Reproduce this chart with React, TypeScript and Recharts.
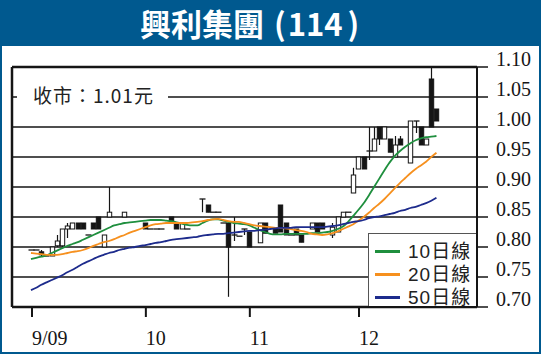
import { ComposedChart, Bar, Line, XAxis, YAxis, CartesianGrid, ReferenceLine } from 'recharts';

// 興利集團 (114) daily candles, Sep - Dec 2009; null = no trade that day
const opens = [
  0.795, 0.795, 0.792, 0.785, 0.785, 0.802, 0.802, 0.83, 0.83, 0.84,
  0.84, 0.82, 0.84, 0.85, 0.80, 0.85, null, null, 0.85, null,
  null, null, 0.84, 0.83, 0.83, 0.83, null, 0.85, 0.84, 0.83,
  0.83, null, null, 0.88, 0.87, 0.858, 0.858, 0.84, 0.84, 0.82,
  0.818, 0.83, 0.825, null, 0.807, 0.84, null, 0.83, 0.87, 0.84,
  0.82, 0.83, 0.82, null, 0.83, 0.84, 0.84, null, 0.82, 0.825,
  0.85, 0.858, 0.89, 0.93, 0.95, 0.96, 0.96, 1.00, 0.98, 0.98,
  0.95, 0.98, null, 0.94, 1.01, 1.00, 0.97, 1.08, 1.03,
];
const highs = [
  0.795, 0.795, 0.795, 0.785, 0.80, 0.82, 0.83, 0.84, 0.84, 0.84,
  0.84, 0.82, 0.84, 0.85, 0.82, 0.90, null, null, 0.858, null,
  null, null, 0.84, 0.83, 0.83, 0.83, null, 0.85, 0.84, 0.84,
  0.83, null, null, 0.88, 0.87, 0.858, 0.858, 0.84, 0.84, 0.85,
  0.818, 0.83, 0.825, null, 0.84, 0.84, null, 0.83, 0.87, 0.84,
  0.82, 0.83, 0.82, null, 0.84, 0.84, 0.84, null, 0.84, 0.85,
  0.858, 0.858, 0.932, 0.95, 0.95, 1.00, 1.00, 1.00, 1.00, 0.98,
  0.985, 0.985, null, 1.01, 1.01, 1.00, 0.98, 1.10, 1.03,
];
const lows = [
  0.795, 0.795, 0.785, 0.785, 0.785, 0.80, 0.80, 0.815, 0.83, 0.83,
  0.83, 0.82, 0.83, 0.83, 0.80, 0.85, null, null, 0.85, null,
  null, null, 0.83, 0.83, 0.83, 0.83, null, 0.84, 0.83, 0.83,
  0.83, null, null, 0.858, 0.858, 0.858, 0.858, 0.84, 0.717, 0.81,
  0.818, 0.82, 0.80, null, 0.807, 0.823, null, 0.823, 0.825, 0.82,
  0.82, 0.82, 0.808, null, 0.83, 0.825, 0.83, null, 0.815, 0.825,
  0.85, 0.858, 0.89, 0.93, 0.93, 0.945, 0.96, 0.97, 0.98, 0.958,
  0.95, 0.97, null, 0.94, 0.99, 0.97, 0.97, 1.00, 1.01,
];
const closes = [
  0.795, 0.795, 0.787, 0.785, 0.80, 0.81, 0.83, 0.835, 0.84, 0.83,
  0.83, 0.82, 0.83, 0.83, 0.82, 0.858, null, null, 0.858, null,
  null, null, 0.83, 0.83, 0.83, 0.83, null, 0.84, 0.83, 0.84,
  0.83, null, null, 0.88, 0.858, 0.858, 0.858, 0.84, 0.80, 0.82,
  0.818, 0.83, 0.80, null, 0.84, 0.823, null, 0.823, 0.825, 0.82,
  0.82, 0.82, 0.808, null, 0.84, 0.825, 0.83, null, 0.833, 0.85,
  0.858, 0.858, 0.92, 0.95, 0.93, 0.96, 0.98, 0.98, 1.00, 0.958,
  0.97, 0.97, null, 1.01, 1.01, 0.97, 0.98, 1.00, 1.01,
];

const ma10 = [
  0.780, 0.782, 0.784, 0.786, 0.790, 0.794, 0.798, 0.802, 0.805, 0.808,
  0.812, 0.816, 0.820, 0.824, 0.828, 0.832, 0.836, 0.838, 0.840, 0.841,
  0.842, 0.843, 0.844, 0.845, 0.845, 0.845, 0.844, 0.843, 0.841, 0.839,
  0.837, 0.836, 0.836, 0.840, 0.844, 0.846, 0.846, 0.844, 0.842, 0.840,
  0.839, 0.838, 0.836, 0.832, 0.828, 0.825, 0.822, 0.821, 0.821, 0.822,
  0.822, 0.822, 0.822, 0.822, 0.823, 0.823, 0.824, 0.825, 0.827, 0.830,
  0.834, 0.842, 0.852, 0.862, 0.873, 0.886, 0.900, 0.914, 0.928, 0.941,
  0.952, 0.960, 0.967, 0.973, 0.978, 0.981, 0.983, 0.984, 0.985,
];
const ma20 = [
  0.790, 0.789, 0.788, 0.787, 0.787, 0.787, 0.788, 0.790, 0.792, 0.793,
  0.795, 0.798, 0.802, 0.805, 0.808, 0.810, 0.813, 0.817, 0.820, 0.824,
  0.827, 0.830, 0.833, 0.836, 0.838, 0.839, 0.840, 0.840, 0.840, 0.840,
  0.840, 0.841, 0.842, 0.843, 0.845, 0.846, 0.847, 0.845, 0.843, 0.842,
  0.842, 0.840, 0.838, 0.836, 0.835, 0.834, 0.833, 0.832, 0.832, 0.831,
  0.830, 0.828, 0.827, 0.825, 0.822, 0.821, 0.820, 0.821, 0.823, 0.826,
  0.830, 0.834, 0.838, 0.844, 0.850, 0.857, 0.865, 0.872, 0.880, 0.889,
  0.898, 0.907, 0.915, 0.923, 0.930, 0.936, 0.942, 0.950, 0.957,
];
const ma50 = [
  0.728, 0.732, 0.737, 0.741, 0.745, 0.749, 0.753, 0.758, 0.762, 0.767,
  0.772, 0.776, 0.780, 0.784, 0.787, 0.790, 0.792, 0.795, 0.797, 0.799,
  0.800, 0.802, 0.803, 0.805, 0.807, 0.808, 0.810, 0.812, 0.813, 0.814,
  0.815, 0.816, 0.817, 0.819, 0.820, 0.821, 0.822, 0.822, 0.823, 0.824,
  0.825, 0.826, 0.827, 0.827, 0.828, 0.829, 0.830, 0.831, 0.832, 0.832,
  0.832, 0.833, 0.833, 0.833, 0.833, 0.833, 0.833, 0.834, 0.835, 0.836,
  0.838, 0.840, 0.842, 0.843, 0.845, 0.848, 0.850, 0.851, 0.853, 0.855,
  0.857, 0.860, 0.862, 0.865, 0.867, 0.870, 0.873, 0.877, 0.882,
];

const priceTicks = [0.70, 0.75, 0.80, 0.85, 0.90, 0.95, 1.00, 1.05, 1.10];
const monthTicks = [0.2, 22.1, 42.1, 63.1];
const monthLabels = ['9/09', '10', '11', '12'];

const Y_MIN = 0.7;
const Y_MAX = 1.1;
const X_DOMAIN: [number, number] = [-3.65, 85.8];
const INK = '#151515';

const data = opens.map((o, i) => ({
  i, o, h: highs[i], l: lows[i], c: closes[i],
  ma10: ma10[i], ma20: ma20[i], ma50: ma50[i],
}));

const series = [
  { key: 'ma10', name: '10日線', color: '#1f8f3e' },
  { key: 'ma20', name: '20日線', color: '#f6901e' },
  { key: 'ma50', name: '50日線', color: '#1d2b8c' },
];

// bar spans [Y_MIN, high] so the pixel/price ratio is always known
const Candle = (props: any) => {
  const { x, width, y, height, payload } = props;
  if (payload.h == null) return null;
  const cx = Math.round(x + width / 2) + 0.5;
  const k = height / (payload.h - Y_MIN);
  const py = (v: number) => y + (payload.h - v) * k;
  const top = py(Math.max(payload.o, payload.c));
  const bot = py(Math.min(payload.o, payload.c));
  const up = payload.c > payload.o;
  return (
    <g>
      {payload.h !== payload.l && (
        <line x1={cx} x2={cx} y1={py(payload.h)} y2={py(payload.l)} stroke={INK} strokeWidth={1.2} />
      )}
      {bot - top < 1.5 ? (
        <line x1={cx - 3} x2={cx + 3} y1={top} y2={top} stroke={INK} strokeWidth={1.3} />
      ) : (
        <rect x={cx - 2.2} y={top} width={4.4} height={bot - top}
          fill={up ? '#fff' : INK} stroke={INK} strokeWidth={1} />
      )}
    </g>
  );
};

const PriceTick = ({ x, y, payload }: any) => (
  <text x={x + 8} y={y - 1} fontFamily="'Liberation Serif', serif" fontSize={20} fill={INK}>
    {payload.value.toFixed(2)}
  </text>
);

const MonthTick = ({ x, y, index }: any) => (
  <text x={x} y={y + 28} fontFamily="'Liberation Serif', serif" fontSize={20} fill={INK}>
    {monthLabels[index] ?? ''}
  </text>
);

export default function App() {
  return (
    <div style={frame}>
      <div style={inner} />
      <div style={banner}>
        興利集團<span style={{ marginLeft: 10, marginRight: 2 }}>(</span>114<span style={{ marginLeft: 5 }}>)</span>
      </div>
      <div style={{ position: 'absolute', left: 0, top: 0 }}>
        <ComposedChart width={541} height={354} data={data}
          margin={{ top: 67, left: 12, right: 8, bottom: 7 }}>
          <CartesianGrid vertical={false} stroke={INK} strokeWidth={1.5} />
          <XAxis dataKey="i" type="number" domain={X_DOMAIN} ticks={monthTicks} allowDataOverflow
            interval={0} height={40} tickSize={10} tickMargin={0}
            axisLine={{ stroke: INK, strokeWidth: 2.5 }} tickLine={{ stroke: INK, strokeWidth: 2 }}
            tick={<MonthTick />} />
          <YAxis orientation="right" domain={[Y_MIN, Y_MAX]} ticks={priceTicks} width={56}
            tickSize={11} tickMargin={0} interval={0}
            axisLine={{ stroke: INK, strokeWidth: 2 }} tickLine={{ stroke: INK, strokeWidth: 1.5 }}
            tick={<PriceTick />} />
          <ReferenceLine y={Y_MAX} stroke={INK} strokeWidth={2.5} />
          <ReferenceLine x={X_DOMAIN[0]} stroke={INK} strokeWidth={2.5} />
          <Bar dataKey={(d: any) => (d.h == null ? null : [Y_MIN, d.h])} barSize={5}
            shape={<Candle />} isAnimationActive={false} />
          {series.map((s) => (
            <Line key={s.key} dataKey={s.key} type="monotone" stroke={s.color} strokeWidth={1.8}
              dot={false} activeDot={false} isAnimationActive={false} />
          ))}
        </ComposedChart>
      </div>
      <div style={closeLabel}>收市：1.01元</div>
      <div style={legendBox}>
        {series.map((s, n) => (
          <div key={s.key} style={{ position: 'absolute', left: 6, top: 6 + n * 23, height: 22, display: 'flex', alignItems: 'center' }}>
            <span style={{ width: 25, height: 3, background: s.color, display: 'inline-block', marginRight: 8 }} />
            <span style={legendText}>{s.name}</span>
          </div>
        ))}
      </div>
    </div>
  );
}

const frame: React.CSSProperties = {
  position: 'absolute',
  left: 0,
  top: 0,
  width: 541,
  height: 354,
  background: '#00598f',
  overflow: 'hidden',
};
const inner: React.CSSProperties = {
  position: 'absolute',
  left: 2,
  top: 46,
  width: 537,
  height: 306,
  background: '#fff',
};
const banner: React.CSSProperties = {
  position: 'absolute',
  left: 140,
  top: 0,
  height: 46,
  lineHeight: '46px',
  whiteSpace: 'nowrap',
  color: '#fff',
  fontWeight: 700,
  fontSize: 31,
  fontFamily: "'Noto Sans CJK TC', sans-serif",
};
const closeLabel: React.CSSProperties = {
  position: 'absolute',
  left: 17,
  top: 84,
  width: 151,
  height: 22,
  lineHeight: '22px',
  paddingLeft: 16,
  boxSizing: 'border-box',
  background: '#fff',
  fontSize: 19,
  letterSpacing: 1,
  color: '#222',
  fontFamily: "'Noto Sans CJK TC', sans-serif",
};
const legendBox: React.CSSProperties = {
  position: 'absolute',
  left: 368,
  top: 233,
  width: 108,
  height: 73,
  boxSizing: 'border-box',
  border: '1px solid #555',
  borderRight: 'none',
  borderBottom: 'none',
  background: '#fff',
};
const legendText: React.CSSProperties = {
  fontSize: 19,
  lineHeight: '21px',
  letterSpacing: 1,
  color: '#222',
  fontFamily: "'Liberation Sans', 'Noto Sans CJK TC', sans-serif",
};
